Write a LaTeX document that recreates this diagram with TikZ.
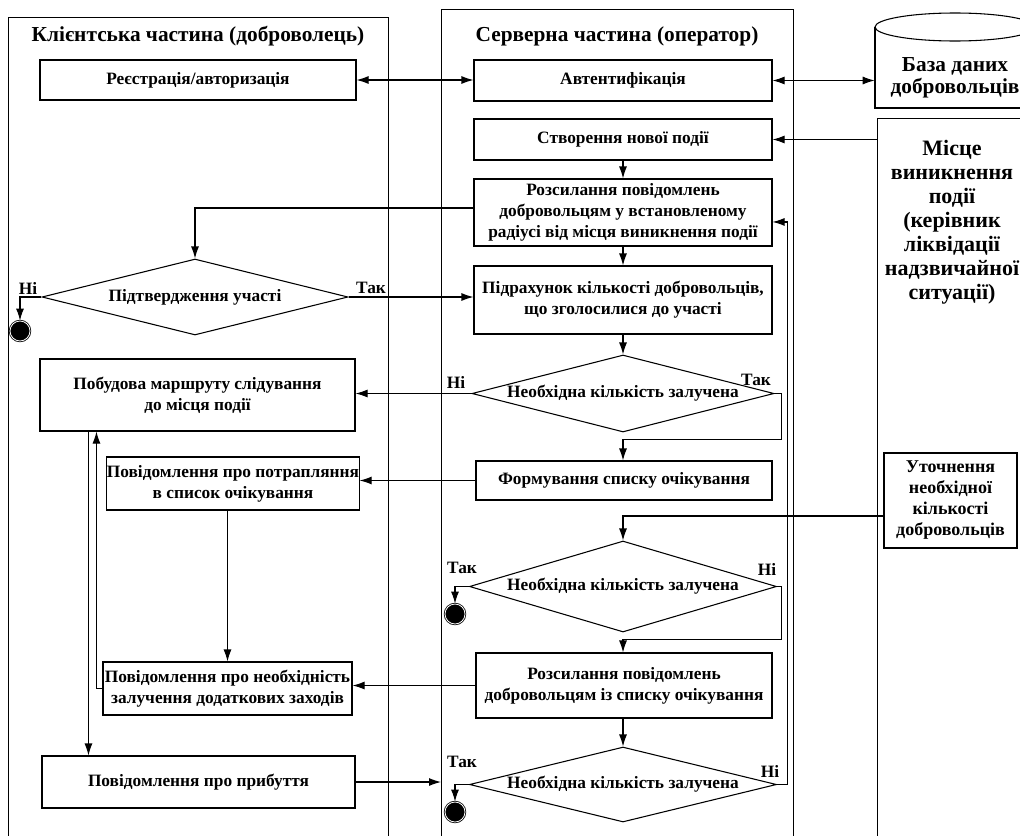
\documentclass[tikz,border=0pt]{standalone}
\usepackage{fontspec}
\setmainfont{Liberation Serif}
\usetikzlibrary{arrows.meta,shapes.geometric,calc}
\begin{document}
\begin{tikzpicture}[x=0.75pt,y=-0.75pt,
  ln/.style={line width=0.8pt},
  arr/.style={line width=0.8pt,-{Latex[length=9pt,width=6pt]}},
  darr/.style={line width=0.8pt,{Latex[length=9pt,width=6pt]}-{Latex[length=9pt,width=6pt]}},
  box/.style={draw,line width=0.8pt,align=center,inner sep=0pt,font=\bfseries\fontsize{13}{15.75}\selectfont},
  dec/.style={diamond,draw,line width=0.8pt,aspect=4,inner sep=0pt,font=\bfseries\fontsize{13}{15.75}\selectfont},
  lane/.style={draw,line width=0.8pt,anchor=north west,inner sep=0pt},
  ttl/.style={inner sep=0pt,font=\bfseries\fontsize{16}{19}\selectfont},
  lbl/.style={inner sep=0pt,font=\bfseries\fontsize{13}{15}\selectfont},
  endpt/.style={circle,fill=black,draw=black,line width=0.6pt,minimum size=15pt,inner sep=0pt,double=white,double distance=0.6pt}
]
\clip (0,0) rectangle (1020,835);
\fill[white] (0,0) rectangle (1020,835);

% lanes
\node[lane,minimum width=285pt,minimum height=630pt] (lane1) at (8,17) {};
\node[lane,minimum width=264pt,minimum height=640pt] (lane2) at (441,9) {};
\node[lane,minimum width=130pt,minimum height=560pt] (lane3) at (877,118) {};
\node[ttl] (t1) at (198,36) {Клієнтська частина (доброволець)};
\node[ttl] (t2) at (617,36) {Серверна частина (оператор)};
\node[inner sep=0pt,align=center,font=\bfseries\fontsize{16.5}{18}\selectfont] (t3) at (952,222) {Місце\\виникнення\\події\\(керівник\\ліквідації\\надзвичайної\\ситуації)};

% database cylinder
\node[inner sep=0pt,align=center,minimum width=120pt,font=\bfseries\fontsize{16}{16.5}\selectfont] (db) at (955,78) {База даних\\добровольців};
\draw[ln] (875,27) -- (875,108) -- (1035,108) -- (1035,27);
\draw[ln] (955,27) ellipse [x radius=80, y radius=14];

% left lane nodes
\node[box,minimum width=237pt,minimum height=30pt] (reg) at (198,80) {Реєстрація/авторизація};
\node[dec,minimum width=229.5pt,minimum height=57pt] (confirm) at (195,297) {Підтвердження участі};
\node[box,minimum width=236.25pt,minimum height=54pt] (build) at (197.5,395) {Побудова маршруту слідування\\до місця події};
\node[box,minimum width=187.5pt,minimum height=39.75pt] (nwait) at (233,483.5) {Повідомлення про потрапляння\\в список очікування};
\node[box,minimum width=186.75pt,minimum height=39.75pt] (nextra) at (227.5,688.5) {Повідомлення про необхідність\\залучення додаткових заходів};
\node[box,minimum width=234.75pt,minimum height=39pt] (arrival) at (198.5,782) {Повідомлення про прибуття};
\node[endpt] (end1) at (20,331) {};

% middle lane nodes
\node[box,minimum width=223.5pt,minimum height=30.75pt] (auth) at (623,80.5) {Автентифікація};
\node[box,minimum width=223.5pt,minimum height=30.75pt] (create) at (623,139.5) {Створення нової події};
\node[box,minimum width=223.5pt,minimum height=50.25pt] (send1) at (623,212.5) {Розсилання повідомлень\\добровольцям у встановленому\\радіусі від місця виникнення події};
\node[box,minimum width=223.5pt,minimum height=51pt] (count) at (623,300) {Підрахунок кількості добровольців,\\що зголосилися до участі};
\node[dec,minimum width=226.5pt,minimum height=57.75pt] (d2) at (623,393.5) {Необхідна кількість залучена};
\node[box,minimum width=222pt,minimum height=29.25pt] (wait) at (624,480.5) {Формування списку очікування};
\node[dec,minimum width=230.25pt,minimum height=68.25pt] (d3) at (623,586.5) {Необхідна кількість залучена};
\node[box,minimum width=222pt,minimum height=48.75pt] (send2) at (624,685.5) {Розсилання повідомлень\\добровольцям із списку очікування};
\node[dec,minimum width=230.25pt,minimum height=56.25pt] (d4) at (623,784.5) {Необхідна кількість залучена};
\node[endpt] (end2) at (455,614) {};
\node[endpt] (end3) at (455,812) {};

% right lane
\node[box,minimum width=99.75pt,minimum height=71.25pt,font=\bfseries\fontsize{13.5}{15.75}\selectfont] (refine) at (950.5,500.5) {Уточнення\\необхідної\\кількості\\добровольців};

% labels
\node[lbl] (n1) at (28,288) {Ні};
\node[lbl] (y1) at (371,288) {Так};
\node[lbl] (n2) at (456,382) {Ні};
\node[lbl] (y2) at (756,380) {Так};
\node[lbl] (y3) at (462,568) {Так};
\node[lbl] (n3) at (767,569) {Ні};
\node[lbl] (y4) at (462,762) {Так};
\node[lbl] (n4) at (770,771) {Ні};

% connectors
\draw[darr] (reg.east) -- (auth.west |- reg.east);
\draw[darr] (auth.east) -- (db.west |- auth.east);
\draw[arr] (lane3.west |- create.east) -- (create.east);
\draw[arr] (create.south) -- (send1.north);
\draw[arr] ([yshift=3.4pt]send1.west) -| (confirm.north);
\draw[arr] (send1.south) -- (count.north);
\draw[arr] (confirm.east) -- (confirm.east -| count.west);
\draw[arr] (confirm.west) -| (end1.north);
\draw[arr] (count.south) -- (d2.north);
\draw[arr] (d2.west) -- (d2.west -| build.east);
\draw[arr] (d2.east) -- ++(5.25pt,0) |- ([yshift=15.75pt]wait.north -| d2.south) -- (wait.north -| d2.south);
\draw[arr] (wait.west) -- (wait.west -| nwait.east);
\draw[arr] (nextra.north |- nwait.south) -- (nextra.north);
\draw[arr] (nextra.west) -| ([xshift=42.75pt]build.south west);
\draw[arr] ([xshift=36.75pt]build.south west) -- ([xshift=36.75pt]build.south west |- arrival.north);
\draw[arr] (arrival.east) -- (arrival.east -| lane2.west);
\draw[arr] ([yshift=-11.6pt]refine.west) -| (d3.north);
\draw[arr] (d3.west) -| (end2.north);
\draw[arr] (d3.east) -- ++(3pt,0) |- ([yshift=9.75pt]send2.north -| d3.south) -- (send2.north -| d3.south);
\draw[arr] (send2.west) -- (send2.west -| nextra.east);
\draw[arr] (send2.south -| d4.north) -- (d4.north);
\draw[arr] (d4.west) -| (end3.north);
\draw[arr] (d4.east) -- ++(7.5pt,0) |- ([yshift=-7.1pt]send1.east);
\end{tikzpicture}
\end{document}
